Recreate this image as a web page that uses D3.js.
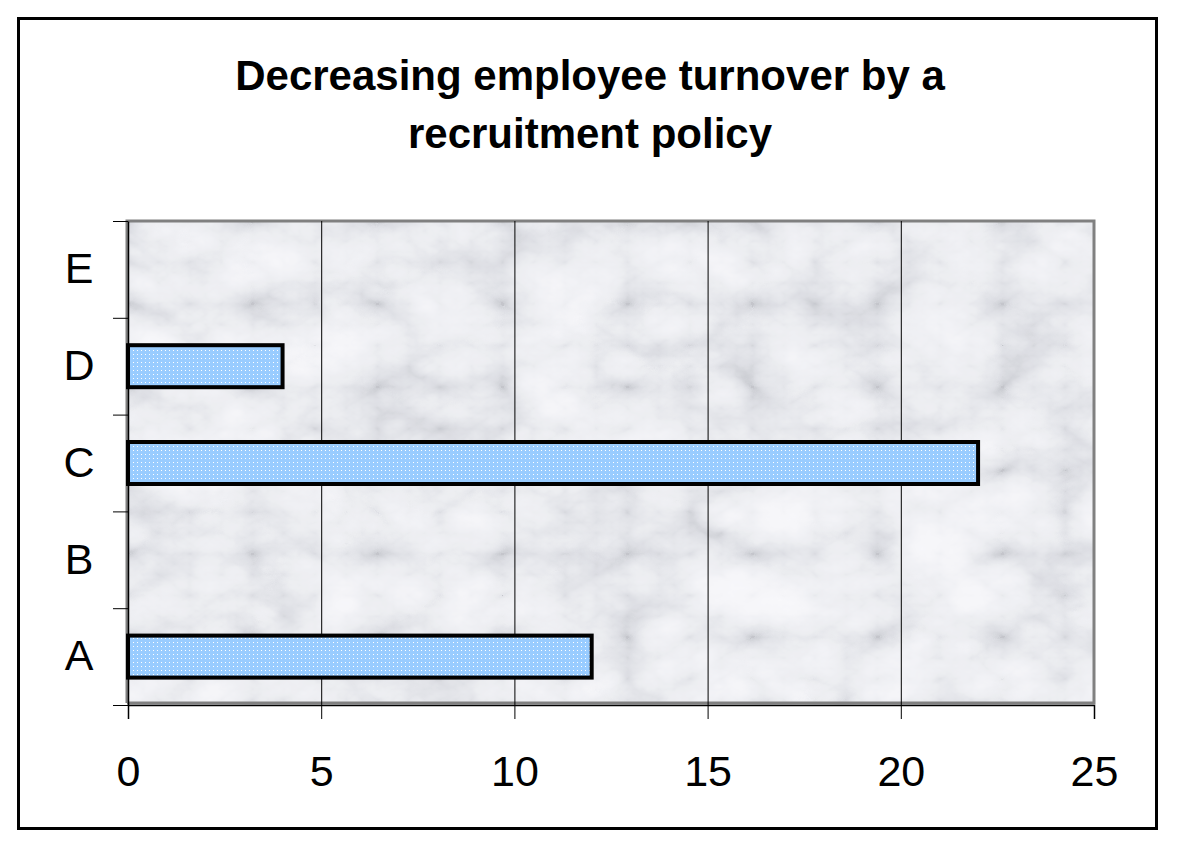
<!DOCTYPE html>
<html>
<head>
<meta charset="utf-8">
<script src="https://cdn.jsdelivr.net/npm/d3@7"></script>
<style>
  body { margin: 0; background: #fff; }
  svg { display: block; font-family: "Liberation Sans", Arial, sans-serif; }
</style>
</head>
<body>
<svg id="chart"></svg>
<script>
const categories = ["A", "B", "C", "D", "E"];
const values = [12, 0, 22, 4, 0];
const xTicks = [0, 5, 10, 15, 20, 25];
const titleLines = ["Decreasing employee turnover by a", "recruitment policy"];

const width = 1179, height = 848;
const margin = { top: 221, left: 128, bottom: 143, right: 85 };
const iwidth = width - margin.left - margin.right;
const iheight = height - margin.top - margin.bottom;

const svg = d3.select("#chart").attr("width", width).attr("height", height);
const defs = svg.append("defs");

// marble-ish background
const f = defs.append("filter").attr("id", "marble")
  .attr("x", 0).attr("y", 0).attr("width", 1).attr("height", 1);
f.append("feTurbulence").attr("type", "turbulence")
  .attr("baseFrequency", "0.008 0.012").attr("numOctaves", 5).attr("seed", 11);
f.append("feColorMatrix").attr("type", "matrix")
  .attr("values", "0.33 0.33 0.33 0 0  0.33 0.33 0.33 0 0  0.33 0.33 0.33 0 0  0 0 0 0 1");
f.append("feComponentTransfer").call(ct => {
  ct.append("feFuncR").attr("type", "table").attr("tableValues", "0.55 0.72 0.84 0.91 0.95 0.98 1");
  ct.append("feFuncG").attr("type", "table").attr("tableValues", "0.56 0.73 0.85 0.91 0.95 0.98 1");
  ct.append("feFuncB").attr("type", "table").attr("tableValues", "0.6 0.77 0.88 0.94 0.97 0.99 1");
});

// dotted blue fill
const pat = defs.append("pattern").attr("id", "dots")
  .attr("patternUnits", "userSpaceOnUse").attr("width", 4).attr("height", 4);
pat.append("rect").attr("width", 4).attr("height", 4).attr("fill", "#99ccff");
pat.append("rect").attr("x", 1).attr("y", 1).attr("width", 1).attr("height", 1).attr("fill", "#fff");

// outer frame
svg.append("rect")
  .attr("x", 18.5).attr("y", 18.5).attr("width", 1138).attr("height", 810)
  .attr("fill", "#fff").attr("stroke", "#000").attr("stroke-width", 3);

// title
svg.append("text")
  .attr("text-anchor", "middle")
  .attr("font-size", 42).attr("font-weight", "bold")
  .selectAll("tspan").data(titleLines).join("tspan")
  .attr("x", 590).attr("y", (d, i) => 90 + i * 58)
  .text(d => d);

const g = svg.append("g").attr("transform", `translate(${margin.left},${margin.top})`);

const x = d3.scaleLinear().domain([0, 25]).range([0, iwidth]);
const y = d3.scaleBand().domain(categories.slice().reverse()).range([0, iheight]).paddingInner(0).paddingOuter(0);
const barH = 42;

g.append("rect").attr("width", iwidth).attr("height", iheight).attr("filter", "url(#marble)");

// plot border (gray)
g.append("path")
  .attr("d", `M-1,${iheight - 2}V0H${iwidth}V${iheight - 2}H-1`)
  .attr("fill", "none").attr("stroke", "#808080").attr("stroke-width", 3);

// gridlines
g.append("g").selectAll("line").data(xTicks.slice(1, -1)).join("line")
  .attr("x1", d => x(d) + 0.5).attr("x2", d => x(d) + 0.5)
  .attr("y1", 0).attr("y2", iheight)
  .attr("stroke", "#000").attr("stroke-width", 1);

// bars
g.append("g").selectAll("rect").data(categories.map((c, i) => ({ c, v: values[i] })).filter(d => d.v > 0))
  .join("rect")
  .attr("x", 0)
  .attr("y", d => y(d.c) + (y.bandwidth() - barH) / 2)
  .attr("width", d => x(d.v))
  .attr("height", barH)
  .attr("fill", "url(#dots)")
  .attr("stroke", "#000").attr("stroke-width", 4);

// axes
const xAxis = g.append("g").attr("transform", `translate(0,${iheight})`)
  .call(d3.axisBottom(x).tickValues(xTicks).tickSize(14).tickPadding(36));
const yAxis = g.append("g")
  .call(d3.axisLeft(y).tickSize(0).tickPadding(34));
// category boundary ticks
g.append("g").selectAll("line").data(d3.range(categories.length + 1)).join("line")
  .attr("x1", -15).attr("x2", 0)
  .attr("y1", d => d * y.step() + 0.5).attr("y2", d => d * y.step() + 0.5)
  .attr("stroke", "#000");

[xAxis, yAxis].forEach(a => {
  a.select(".domain").attr("stroke", "#000").attr("stroke-width", 1.5);
  a.selectAll("text").attr("font-size", 43).attr("fill", "#000")
    .attr("font-family", "Liberation Sans, Arial, sans-serif");
  a.selectAll(".tick line").attr("stroke", "#000");
});
yAxis.selectAll("text").attr("text-anchor", "middle").attr("dx", -15);
</script>
</body>
</html>
